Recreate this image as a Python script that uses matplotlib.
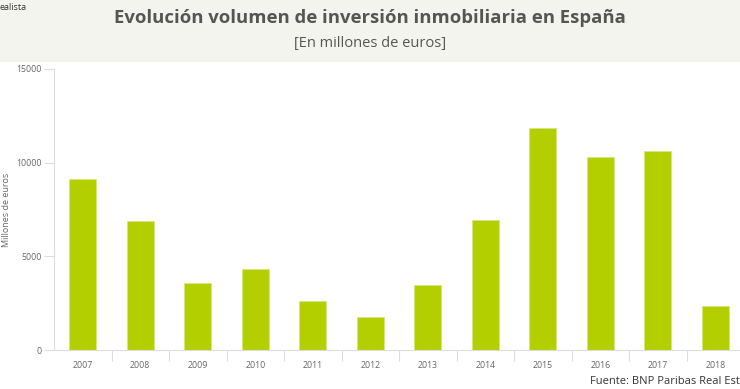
import matplotlib
matplotlib.use("Agg")
import matplotlib.pyplot as plt
from matplotlib.patches import Rectangle

years = ["2007", "2008", "2009", "2010", "2011", "2012", "2013", "2014", "2015", "2016", "2017", "2018"]
volumen = [9130, 6890, 3580, 4320, 2620, 1760, 3470, 6940, 11850, 10300, 10620, 2350]
yticks = [0, 5000, 10000, 15000]

W, H = 740, 389
fig = plt.figure(figsize=(W / 100, H / 100), dpi=100)
fig.patch.set_facecolor("white")
fig.patches.append(Rectangle((0, 1 - 62 / H), 1, 62 / H, transform=fig.transFigure,
                             facecolor="#f4f4ef", edgecolor="none", zorder=0))

font = ["Open Sans", "DejaVu Sans"]
fig.text(370 / W, 1 - 18 / H, "Evolución volumen de inversión inmobiliaria en España",
         ha="center", va="center", fontsize=13.3, fontweight="bold", color="#555555", family=font)
fig.text(370 / W, 1 - 44 / H, "[En millones de euros]", ha="center", va="center",
         fontsize=10.5, color="#555555", family=font)
fig.text(0, 1 - 7 / H, "ealista", ha="left", va="center", fontsize=6.5, color="#333333", family=font)

ax = fig.add_axes([54 / W, 39 / H, 690 / W, 281 / H])
ax.bar(range(len(years)), volumen, width=0.47, color="#b3cf00", edgecolor="#d6e680", linewidth=0.6)
ax.set_xlim(-0.5, len(years) - 0.5)
ax.set_ylim(0, 15000)
ax.set_yticks(yticks)
ax.set_yticklabels([str(v) for v in yticks], fontsize=6.3, color="#666666", family=font)
ax.set_xticks(range(len(years)))
ax.set_xticklabels(years, fontsize=6.3, color="#666666", family=font)
ax.set_xticks([i + 0.5 for i in range(len(years) - 1)], minor=True)
ax.tick_params(axis="x", which="major", length=0, pad=8)
ax.tick_params(axis="x", which="minor", length=8, width=0.8, color="#dddddd")
ax.tick_params(axis="y", length=7, width=0.8, color="#dddddd", pad=2)
for s in ["top", "right"]:
    ax.spines[s].set_visible(False)
ax.spines["left"].set_color("#dddddd")
ax.spines["bottom"].set_color("#dddddd")
ax.set_ylabel("Millones de euros", fontsize=6.5, color="#666666", family=font)
ax.yaxis.set_label_coords(-47 / 690, 0.5)
ax.yaxis.label.set_va("center")

fig.text(590 / W, 1 - 381 / H, "Fuente: BNP Paribas Real Estate", ha="left", va="center",
         fontsize=8, color="#333333", family=font)

fig.savefig("out.png", dpi=100)
